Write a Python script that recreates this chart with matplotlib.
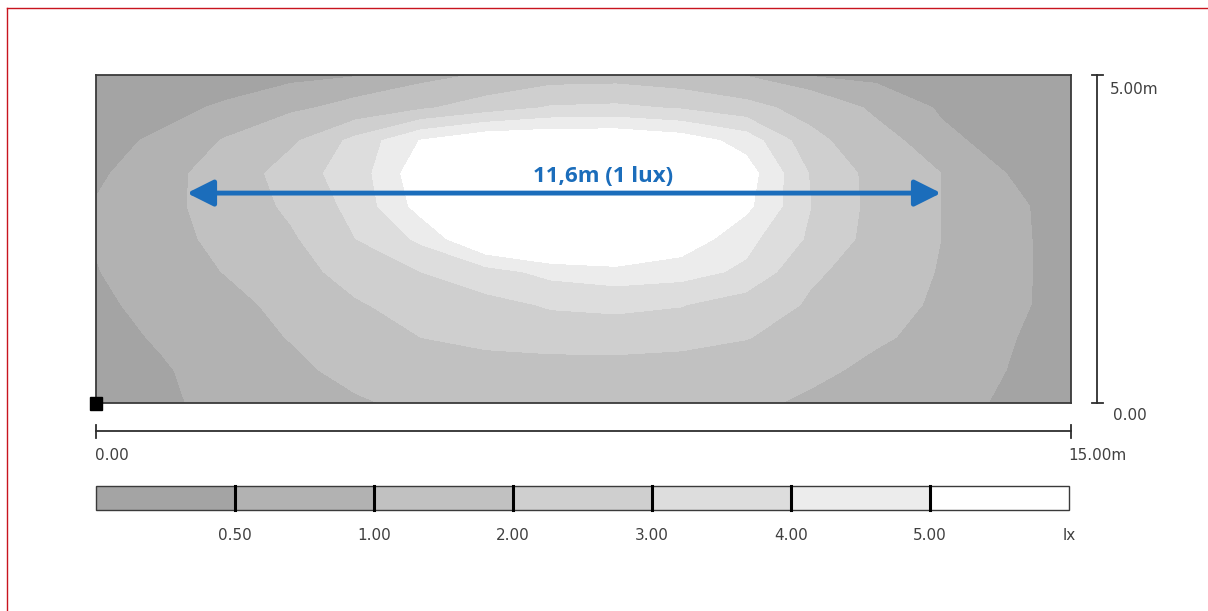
import matplotlib
matplotlib.use("Agg")
import matplotlib.pyplot as plt
from matplotlib.patches import Rectangle
import numpy as np

# illuminance (lux); x every 1 m, y every 0.5 m
x_m = [0, 1, 2, 3, 4, 5, 6, 7, 8, 9, 10, 11, 12, 13, 14, 15]
y_m = [0.0, 0.5, 1.0, 1.5, 2.0, 2.5, 3.0, 3.5, 4.0, 4.5, 5.0]

lux_y00 = [0.30, 0.44, 0.60, 0.72, 0.92, 1.15, 1.30, 1.35, 1.35, 1.30, 1.15, 0.88, 0.70, 0.58, 0.47, 0.36]
lux_y05 = [0.35, 0.47, 0.62, 0.85, 1.20, 1.40, 1.50, 1.55, 1.55, 1.50, 1.35, 1.15, 0.85, 0.65, 0.50, 0.38]
lux_y10 = [0.40, 0.53, 0.72, 1.03, 1.50, 2.00, 2.30, 2.45, 2.50, 2.35, 2.05, 1.50, 1.08, 0.82, 0.52, 0.40]
lux_y15 = [0.45, 0.58, 0.85, 1.15, 1.90, 2.40, 2.70, 3.10, 3.20, 3.05, 2.50, 1.90, 1.10, 0.96, 0.55, 0.42]
lux_y20 = [0.48, 0.75, 1.02, 1.60, 2.40, 3.00, 3.60, 4.30, 4.60, 4.40, 3.80, 2.10, 1.70, 0.92, 0.57, 0.40]
lux_y25 = [0.53, 0.80, 1.15, 1.85, 3.00, 4.20, 6.20, 7.00, 7.00, 5.70, 4.30, 2.82, 1.61, 1.00, 0.58, 0.38]
lux_y30 = [0.54, 0.80, 1.30, 2.20, 3.30, 5.40, 7.50, 8.50, 8.50, 7.80, 5.25, 3.00, 1.67, 1.00, 0.58, 0.36]
lux_y35 = [0.40, 0.85, 1.20, 2.55, 3.45, 5.70, 7.50, 8.00, 8.00, 7.30, 5.50, 2.90, 1.65, 1.00, 0.50, 0.38]
lux_y40 = [0.40, 0.55, 1.05, 1.80, 3.30, 5.05, 5.90, 6.00, 6.00, 5.60, 4.60, 2.30, 1.30, 0.60, 0.35, 0.30]
lux_y45 = [0.30, 0.40, 0.55, 0.85, 1.25, 1.85, 2.50, 3.10, 3.20, 2.90, 2.35, 1.60, 0.85, 0.45, 0.35, 0.30]
lux_y50 = [0.28, 0.30, 0.33, 0.38, 0.46, 0.70, 1.10, 1.50, 1.55, 1.30, 0.95, 0.45, 0.38, 0.33, 0.30, 0.28]

levels = [0, 0.5, 1, 2, 3, 4, 5, 100]
band_colors = ['#a4a4a4', '#b2b2b2', '#c1c1c1', '#cfcfcf', '#dddddd', '#ececec', '#ffffff']
legend_labels = ['0.50', '1.00', '2.00', '3.00', '4.00', '5.00']
room_w = 15.0
room_h = 5.0

# 1 lux width marker
arrow_x0 = 1.4
arrow_len = 11.6
arrow_y = 3.2
arrow_text = '11,6m (1 lux)'

lux = np.array([lux_y00, lux_y05, lux_y10, lux_y15, lux_y20, lux_y25,
                lux_y30, lux_y35, lux_y40, lux_y45, lux_y50])

W, H = 1208, 611
fig = plt.figure(figsize=(W / 100, H / 100), dpi=100)
fig.patch.set_facecolor('white')

def px_rect(l, t, r, b):
    return [l / W, 1 - b / H, (r - l) / W, (b - t) / H]

ax = fig.add_axes(px_rect(96, 75, 1071, 403))
ax.contourf(x_m, y_m, lux, levels=levels, colors=band_colors)
ax.set_xlim(0, room_w)
ax.set_ylim(0, room_h)
ax.set_xticks([])
ax.set_yticks([])
for s in ax.spines.values():
    s.set_color('#3a3a3a')
    s.set_linewidth(1.3)

blue = '#1b6dbb'
ax.annotate('', xy=(arrow_x0 + arrow_len, arrow_y), xytext=(arrow_x0, arrow_y),
            arrowprops=dict(arrowstyle='<|-|>,head_length=0.8,head_width=0.4',
                            color=blue, lw=3.5, shrinkA=0, shrinkB=0,
                            mutation_scale=20))
ax.text(arrow_x0 + arrow_len / 2 + 0.6, arrow_y + 0.17, arrow_text, color=blue,
        fontsize=16, fontweight='bold', family='Open Sans',
        ha='center', va='baseline')

# overlay in pixel coordinates for scale bars and legend
ov = fig.add_axes([0, 0, 1, 1], zorder=5)
ov.set_xlim(0, W)
ov.set_ylim(H, 0)
ov.axis('off')

# red frame (left and top)
ov.plot([7, 7], [8, H], color='#c8141e', lw=1)
ov.plot([7, W], [8, 8], color='#c8141e', lw=1)

# origin marker
ov.add_patch(Rectangle((90, 397), 12, 13, color='black'))

txt = dict(family='DejaVu Sans', fontsize=11, color='#404040')
line = dict(color='#2e2e2e', lw=1.3)

# vertical scale
ov.plot([1097, 1097], [75, 403], **line)
ov.plot([1092, 1103], [75, 75], **line)
ov.plot([1092, 1103], [403, 403], **line)
ov.text(1110, 89, f'{room_h:.2f}m', va='center', ha='left', **txt)
ov.text(1113, 415, f'{0:.2f}', va='center', ha='left', **txt)

# horizontal scale
ov.plot([96, 1071], [431, 431], **line)
ov.plot([96, 96], [425, 438], **line)
ov.plot([1071, 1071], [425, 438], **line)
ov.text(95, 456, f'{0:.2f}', va='center', ha='left', **txt)
ov.text(1068, 456, f'{room_w:.2f}m', va='center', ha='left', **txt)

# colour legend
lx0, lx1, ly0, ly1 = 96, 1069, 486, 510
seg = (lx1 - lx0) / len(band_colors)
for i, c in enumerate(band_colors):
    ov.add_patch(Rectangle((lx0 + i * seg, ly0), seg, ly1 - ly0, color=c, lw=0))
ov.add_patch(Rectangle((lx0, ly0), lx1 - lx0, ly1 - ly0, fill=False,
                       ec='#3a3a3a', lw=1))
for i, lab in enumerate(legend_labels):
    xb = lx0 + (i + 1) * seg
    ov.plot([xb, xb], [ly0, ly1], color='black', lw=2.2)
    ov.text(xb, 536, lab, ha='center', va='center', **txt)
ov.text(lx1, 536, 'lx', ha='center', va='center', **txt)

fig.savefig('out.png', dpi=100)
